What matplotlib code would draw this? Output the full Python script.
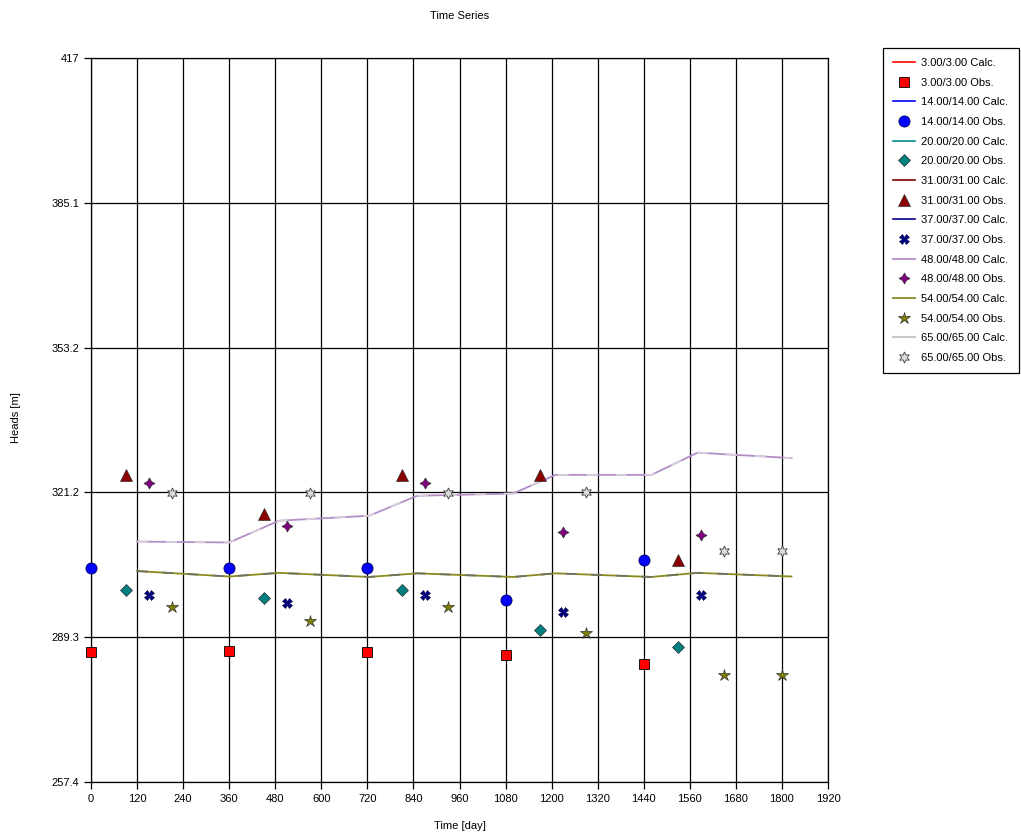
import matplotlib
matplotlib.use("Agg")
import matplotlib.pyplot as plt

plt.rcParams['font.family'] = ['Liberation Sans', 'DejaVu Sans']

# calculated heads (two visible curves)
calc_t = [120, 360, 490, 725, 850, 1100, 1210, 1460, 1580, 1825]
calc_upper = [310.4, 310.2, 315.0, 316.1, 320.5, 321.0, 325.1, 325.1, 330.0, 328.8]
calc_lower = [303.9, 302.7, 303.5, 302.6, 303.4, 302.6, 303.4, 302.6, 303.5, 302.7]

# observed heads
t_3 = [0, 360, 720, 1080, 1440]
h_3 = [286.0, 286.2, 286.0, 285.5, 283.5]
t_14 = [0, 360, 720, 1080, 1440]
h_14 = [304.5, 304.5, 304.5, 297.5, 306.3]
t_20 = [90, 450, 810, 1170, 1530]
h_20 = [299.7, 298.0, 299.7, 291.0, 287.1]
t_31 = [90, 450, 810, 1170, 1530]
h_31 = [325.1, 316.5, 325.1, 325.1, 306.3]
t_37 = [150, 510, 870, 1230, 1590]
h_37 = [298.7, 296.9, 298.7, 294.9, 298.7]
t_48 = [150, 510, 870, 1230, 1590]
h_48 = [323.3, 313.8, 323.3, 312.6, 311.9]
t_54 = [210, 570, 930, 1290, 1650, 1800]
h_54 = [295.9, 292.9, 295.9, 290.2, 281.0, 281.0]
t_65 = [210, 570, 930, 1290, 1650, 1800]
h_65 = [321.2, 321.2, 321.2, 321.3, 308.3, 308.3]

x_ticks = list(range(0, 1921, 120))
y_ticks = [257.4, 289.32, 321.24, 353.16, 385.08, 417.0]
y_tick_labels = ['257.4', '289.3', '321.2', '353.2', '385.1', '417']

fig = plt.figure(figsize=(10.21, 8.36), dpi=100)
ax = fig.add_axes([91 / 1021, 1 - 782 / 836, (828 - 91) / 1021, (782 - 58) / 836])

obs = dict(ls='none', clip_on=False, zorder=5)

ax.plot([], [], color='red', lw=1.2, label='3.00/3.00 Calc.')
ax.plot(t_3, h_3, marker='s', ms=7.5, mfc='red', mec='black', mew=0.6, label='3.00/3.00 Obs.', **obs)
ax.plot([], [], color='blue', lw=1.2, label='14.00/14.00 Calc.')
ax.plot(t_14, h_14, marker='o', ms=8, mfc='blue', mec='#000060', mew=0.6, label='14.00/14.00 Obs.', **obs)
ax.plot([], [], color='#008b8b', lw=1.2, label='20.00/20.00 Calc.')
ax.plot(t_20, h_20, marker='D', ms=6, mfc='#008080', mec='#303030', mew=0.5, label='20.00/20.00 Obs.', **obs)
ax.plot([], [], color='#800000', lw=1.2, label='31.00/31.00 Calc.')
ax.plot(t_31, h_31, marker='^', ms=8, mfc='#8b0000', mec='#303030', mew=0.5, label='31.00/31.00 Obs.', **obs)
ax.plot([], [], color='#000080', lw=1.2, label='37.00/37.00 Calc.')
ax.plot(t_37, h_37, marker='X', ms=7, mfc='#000080', mec='#000040', mew=0.4, label='37.00/37.00 Obs.', **obs)
ax.plot(calc_t, calc_upper, color='#b48cc8', lw=1.3, label='48.00/48.00 Calc.')
ax.plot(t_48, h_48, marker=(4, 1, 0), ms=8, mfc='#800080', mec='#303030', mew=0.5, label='48.00/48.00 Obs.', **obs)
ax.plot(calc_t, calc_lower, color='#8a8a20', lw=1.3, label='54.00/54.00 Calc.')
ax.plot(calc_t, calc_lower, color='#707060', lw=1.3, dashes=(6, 8))
ax.plot(t_54, h_54, marker='*', ms=9, mfc='#808000', mec='#303030', mew=0.5, label='54.00/54.00 Obs.', **obs)
ax.plot(calc_t, calc_upper, color='#d8d0dc', lw=1.3, dashes=(6, 10))
ax.plot([], [], color='#c8c8c8', lw=1.5, label='65.00/65.00 Calc.')
ax.plot(t_65, h_65, marker=(6, 1, 0), ms=8, mfc='#dcdcdc', mec='#404040', mew=0.6, label='65.00/65.00 Obs.', **obs)

ax.set_xlim(0, 1920)
ax.set_ylim(257.4, 417)
ax.set_xticks(x_ticks)
ax.set_yticks(y_ticks)
ax.set_yticklabels(y_tick_labels)
ax.grid(True, color='black', lw=0.9)
ax.set_axisbelow(True)
for s in ax.spines.values():
    s.set_linewidth(0.9)
ax.tick_params(labelsize=8, length=5, width=0.9, direction='out')

fig.text(460 / 1021, 1 - 16 / 836, 'Time Series', ha='center', va='center', fontsize=8)
fig.text(16 / 1021, 0.5, 'Heads [m]', ha='center', va='center', rotation=90, fontsize=8)
fig.text(460 / 1021, 1 - 826 / 836, 'Time [day]', ha='center', va='center', fontsize=8)

leg = fig.legend(loc='upper left', bbox_to_anchor=(883 / 1021, 1 - 48 / 836), fontsize=8,
                 fancybox=False, framealpha=1, edgecolor='black', handlelength=2.0,
                 labelspacing=0.87, borderpad=0.9, handletextpad=0.55, borderaxespad=0)
leg.get_frame().set_linewidth(0.9)

fig.savefig('out.png', dpi=100)
